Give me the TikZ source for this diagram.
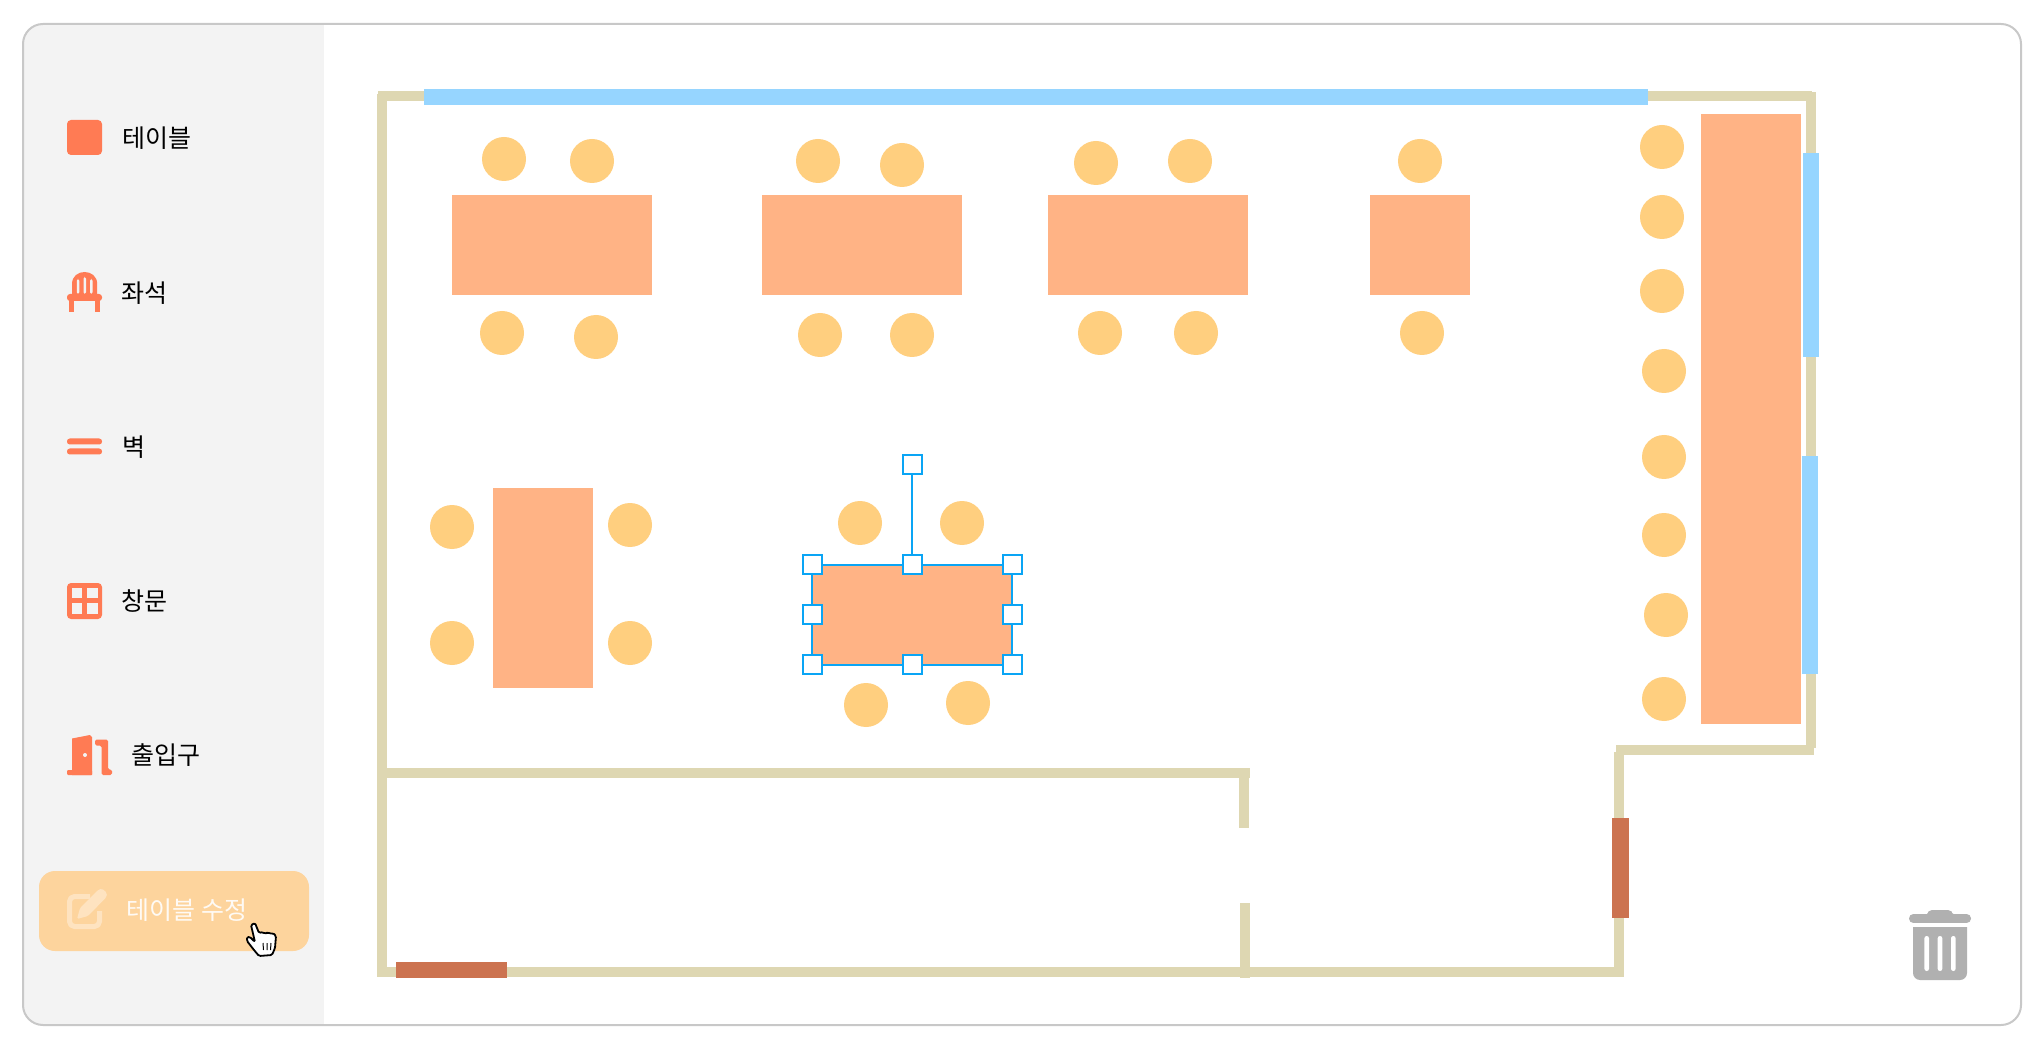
\documentclass[tikz,border=0pt]{standalone}
\usepackage{fontspec}
\setmainfont{Noto Sans CJK KR}
\definecolor{framecol}{HTML}{C8C8C8}
\definecolor{sidecol}{HTML}{F3F3F3}
\definecolor{wallcol}{HTML}{DED7B2}
\definecolor{wincol}{HTML}{96D5FF}
\definecolor{doorcol}{HTML}{CC7350}
\definecolor{tablecol}{HTML}{FFB385}
\definecolor{seatcol}{HTML}{FFCF7F}
\definecolor{iconcol}{HTML}{FF7B54}
\definecolor{btncol}{HTML}{FDD49D}
\definecolor{btnicon}{HTML}{FEE3C0}
\definecolor{selcol}{HTML}{0AA5F5}
\definecolor{trashcol}{HTML}{B0B0B0}
\tikzset{
  wall/.style={fill=wallcol},
  windowpane/.style={fill=wincol},
  doorway/.style={fill=doorcol},
  tabletop/.style={fill=tablecol},
  seat/.style={fill=seatcol},
  icon/.style={fill=iconcol},
  menutext/.style={anchor=west,inner sep=0pt,outer sep=0pt,font=\fontsize{12.5}{15}\selectfont,text=black},
  selline/.style={draw=selcol,line width=1pt},
  handle/.style={draw=selcol,line width=1pt,fill=white,rectangle,inner sep=0pt,outer sep=0pt,minimum size=9.5pt},
}
\begin{document}
\begin{tikzpicture}[x=0.5pt,y=-0.5pt]
\path[use as bounding box,fill=white] (0,0) rectangle (2040,1037);
% sidebar and frame
\begin{scope}
\clip[rounded corners=10pt] (23,24) rectangle (2021,1025);
\fill[sidecol] (23,24) rectangle (324,1025);
\end{scope}
\draw[framecol,line width=1pt,rounded corners=10pt] (23,24) rectangle (2021,1025);
% walls
\fill[wall] (378,91) rectangle (1812,101);
\fill[wall] (377,94) rectangle (387,977);
\fill[wall] (1806,92) rectangle (1816,748);
\fill[wall] (1616,745) rectangle (1814,755);
\fill[wall] (1614,752) rectangle (1624,977);
\fill[wall] (378,967) rectangle (1624,977);
\fill[wall] (387,768) rectangle (1250,778);
\fill[wall] (1239,778) rectangle (1249,828);
\fill[wall] (1240,903) rectangle (1250,978);
% windows
\fill[windowpane] (424,89) rectangle (1648,105);
\fill[windowpane] (1803,153) rectangle (1819,357);
\fill[windowpane] (1802,456) rectangle (1818,674);
% doors
\fill[doorway] (396,962) rectangle (507,978);
\fill[doorway] (1612,818) rectangle (1629,918);
% tables
\fill[tabletop] (452,195) rectangle (652,295);
\fill[tabletop] (762,195) rectangle (962,295);
\fill[tabletop] (1048,195) rectangle (1248,295);
\fill[tabletop] (1370,195) rectangle (1470,295);
\fill[tabletop] (493,488) rectangle (593,688);
\fill[tabletop] (1701,114) rectangle (1801,724);
\fill[tabletop] (812,565) rectangle (1012,665);
% seats
\foreach \sx/\sy in {504/159,592/161,502/333,596/337,
  818/161,902/165,820/335,912/335,
  1096/163,1190/161,1100/333,1196/333,
  1420/161,1422/333,
  452/527,452/643,630/525,630/643,
  860/523,962/523,866/705,968/703,
  1662/147,1662/217,1662/291,1664/371,1664/457,1664/535,1666/615,1664/699}
  \fill[seat] (\sx,\sy) circle [radius=22];
% selection
\draw[selline] (812,565) rectangle (1012,665);
\node[handle] (hrot) at (912,464.5) {};
\node[handle] (htm) at (912,564.5) {};
\draw[selline] (hrot) -- (htm);
\node[handle] (htl) at (812,564.5) {};
\node[handle] (htr) at (1012,564.5) {};
\node[handle] (hml) at (812,614.5) {};
\node[handle] (hmr) at (1012,614.5) {};
\node[handle] (hbl) at (812,664.5) {};
\node[handle] (hbm) at (912,664.5) {};
\node[handle] (hbr) at (1012,664.5) {};
% menu: table
\fill[icon,rounded corners=2pt] (67,120) rectangle (102,155);
\node[menutext] (t1) at (122,138) {테이블};
% menu: seat
\fill[icon] (72,295) -- (72,284) .. controls (72,268) and (97.2,268) .. (97.2,284) -- (97.2,295) -- cycle;
\fill[sidecol,rounded corners=0.8pt] (76.8,279) rectangle (79.3,294);
\fill[sidecol,rounded corners=0.8pt] (83.5,277) rectangle (86,294);
\fill[sidecol,rounded corners=0.8pt] (90,279) rectangle (92.5,294);
\fill[icon,rounded corners=1.5pt] (67,294) rectangle (102,301);
\fill[icon] (69,299) rectangle (74,312);
\fill[icon] (95,299) rectangle (99.5,312);
\node[menutext] (t2) at (121,293) {좌석};
% menu: wall
\fill[icon,rounded corners=1.4pt] (67,438.5) rectangle (102,444.5);
\fill[icon,rounded corners=1.4pt] (67,448.5) rectangle (102,454.5);
\node[menutext] (t3) at (122,447) {벽};
% menu: window
\fill[icon,rounded corners=2pt] (67,583) rectangle (102,619);
\fill[sidecol] (71.6,588) rectangle (82,598);
\fill[sidecol] (86.8,588) rectangle (97.5,598);
\fill[sidecol] (71.6,603) rectangle (82,614);
\fill[sidecol] (86.8,603) rectangle (97.5,614);
\node[menutext] (t4) at (121,601) {창문};
% menu: door
\fill[icon] (72,775) -- (72,738.5) -- (90,735) -- (92,737) -- (92,775) -- cycle;
\fill[icon,rounded corners=0.6pt] (67,770) rectangle (92,775);
\fill[sidecol] (85,755) circle [radius=2];
\fill[icon,rounded corners=0.8pt] (95,739.5) -- (108,739.5) -- (108,769.5) -- (112,769.5) -- (112,775) -- (101.5,775) -- (101.5,745.5) -- (95,745.5) -- cycle;
\node[menutext] (t5) at (131.5,755) {출입구};
% menu: edit button
\fill[btncol,rounded corners=8pt] (39,871) rectangle (309,951);
\draw[btnicon,line width=2.5pt,line join=round,rounded corners=2.5pt] (90,896.5) -- (69.5,896.5) -- (69.5,926.5) -- (99.5,926.5) -- (99.5,911);
\fill[btnicon,rounded corners=0.8pt] (77,919) -- (80,908) -- (98,890) -- (102,888.5) -- (107,893) -- (106.5,897) -- (88,916) -- cycle;
\node[menutext,text=white,text opacity=0.9] (t6) at (126.5,910) {테이블 수정};
% cursor
\draw[black,fill=white,line width=0.9pt,rounded corners=0.7pt,line join=round]
 (251,925) -- (255,923) -- (259,933) -- (263,932) -- (265,934) -- (268,932) -- (270,934) -- (273,933) -- (276,936) -- (275,948) -- (272,955) -- (259,956) -- (254,950) -- (247,941) -- (247,937) -- (250,937) -- (255,942) -- cycle;
\draw[black,line width=0.5pt] (263,943) -- (263.5,950) (267,943) -- (267,950) (271,943) -- (270.5,950);
% trash
\fill[trashcol,rounded corners=2.2pt] (1909,914) rectangle (1971,923);
\fill[trashcol,rounded corners=2.5pt] (1927,910) rectangle (1953,918);
\fill[trashcol,rounded corners=3.5pt] (1913,920) -- (1913,980) -- (1967,980) -- (1967,920) -- cycle;
\fill[white] (1905,923) rectangle (1975,927);
\foreach \tx in {1926.7,1940,1953.3}
  \fill[white,rounded corners=1.1pt] (\tx-2.3,936) rectangle (\tx+2.3,971);
\end{tikzpicture}
\end{document}
